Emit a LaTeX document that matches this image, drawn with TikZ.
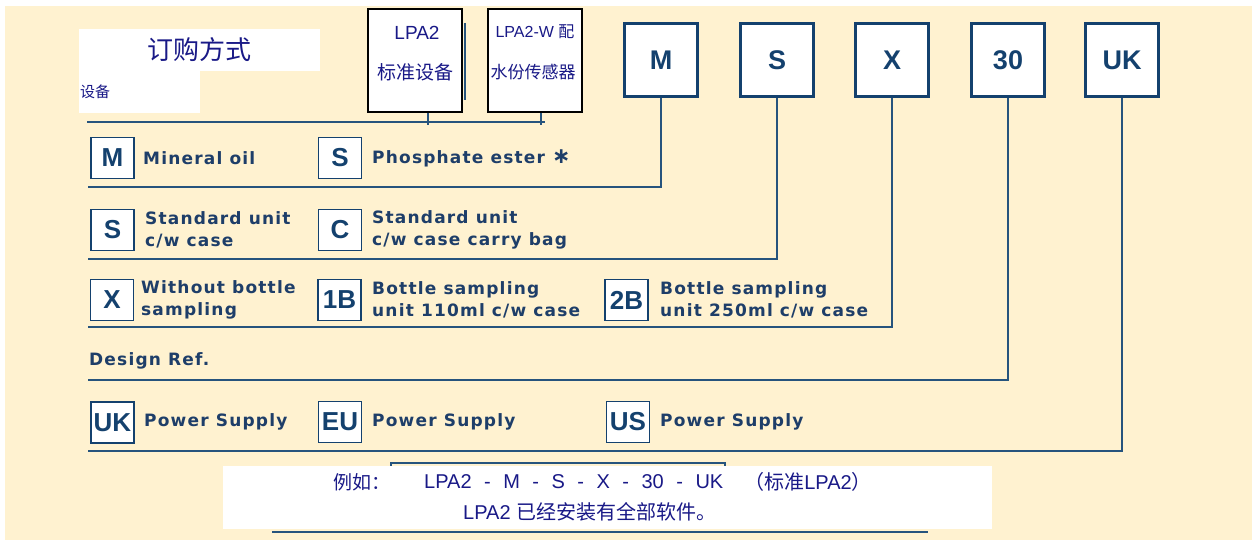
\documentclass[tikz,border=0pt]{standalone}
\usepackage{fontspec}
\usepackage{tikz}
\setmainfont{Liberation Sans}
\newfontfamily\cjk{Noto Sans CJK SC}
\newfontfamily\labfont[LetterSpace=7]{DejaVu Sans}

\definecolor{cream}{RGB}{255,242,208}
\definecolor{rulec}{RGB}{38,84,125}
\definecolor{boxnavy}{RGB}{20,65,110}
\definecolor{labtxt}{RGB}{30,62,105}
\definecolor{cjktxt}{RGB}{25,25,135}

\newcommand{\gap}{\hspace{12.5pt}}

\tikzset{
  bigbox/.style={draw=boxnavy, line width=3pt, fill=white, minimum size=73pt, inner sep=0pt,
    text=boxnavy, font=\bfseries\fontsize{27}{27}\selectfont},
  keybox/.style={draw=boxnavy, line width=1.8pt, fill=white, minimum width=43pt, minimum height=41pt,
    inner sep=0pt, text=boxnavy, font=\bfseries\fontsize{26}{26}\selectfont},
  desc/.style={anchor=west, align=left, inner sep=0pt, text=labtxt,
    font=\labfont\bfseries\fontsize{17}{22}\selectfont},
  modelbox/.style={draw=black, line width=2pt, fill=white, minimum width=94pt, minimum height=103pt},
  mtxt/.style={text=cjktxt, inner sep=0pt},
  rule/.style={draw=rulec, line width=2pt},
}

\begin{document}
\begin{tikzpicture}[x=1pt,y=-1pt]
  \useasboundingbox (0,0) rectangle (1252,540);
  % Background
  \fill[cream] (5,6) rectangle (1252,540);

  % Title area
  \fill[white] (79,29) rectangle (320,71);
  \fill[white] (79,71) rectangle (200,113);
  \node[mtxt, font=\cjk\fontsize{26}{26}\selectfont] (title) at (199,50) {订购方式};
  \node[mtxt, anchor=west, font=\cjk\fontsize{15}{15}\selectfont] (device) at (80,92) {设备};

  % Model boxes
  \draw[rule] (465,23) -- (465,100);
  \node[modelbox] (lpa) at (415,60.5) {};
  \node[modelbox] (lpaw) at (535,60.5) {};
  \node[mtxt, font=\fontsize{19}{19}\selectfont] (lpaA) at (417,33) {LPA2};
  \node[mtxt, font=\cjk\fontsize{19}{19}\selectfont] (lpaB) at (415,72) {标准设备};
  \node[mtxt, font=\fontsize{16}{16}\selectfont] (lpawA) at (535,32) {LPA2-W {\cjk 配}};
  \node[mtxt, font=\cjk\fontsize{17}{17}\selectfont] (lpawB) at (533,72) {水份传感器};

  % Line under the model boxes
  \coordinate (top0) at (87,122);
  \coordinate (top1) at (545,122);
  \draw[rule] (top0) -- (top1);
  \draw[rule, line width=1.5pt] ([xshift=13pt]lpa.south) -- ++(0,12);
  \draw[rule, line width=1.5pt] ([xshift=6pt]lpaw.south) -- ++(0,12);

  % Code boxes
  \foreach \name/\txt/\xx in {bM/M/661, bS/S/777, bX/X/892, b30/30/1008, bUK/UK/1122}
    \node[bigbox] (\name) at (\xx,60) {\txt};

  % Oil
  \node[keybox] (kM) at (112.5,158) {M};
  \node[desc] (dM) at (143,158) {Mineral oil};
  \node[keybox] (kS) at (340,158) {S};
  \node[desc] (dS) at (372,158) {Phosphate ester {\fontsize{22}{22}\selectfont ∗}};
  \coordinate (r1) at (88,187);
  \draw[rule] (r1) -| (bM.south);

  % Unit
  \node[keybox] (kSu) at (112.5,230) {S};
  \node[desc] (dSu) at (145,230) {Standard unit\\c/w case};
  \node[keybox] (kC) at (340,230) {C};
  \node[desc] (dC) at (372,230) {Standard unit\\c/w case carry bag};
  \coordinate (r2) at (88,259);
  \draw[rule] (r2) -| (bS.south);

  % Sampling
  \node[keybox] (kX) at (112,300) {X};
  \node[desc] (dX) at (141,300) {Without bottle\\sampling};
  \node[keybox] (k1B) at (339.5,300) {1B};
  \node[desc] (d1B) at (372,300) {Bottle sampling\\unit 110ml c/w case};
  \node[keybox] (k2B) at (626.5,300) {2B};
  \node[desc] (d2B) at (660,300) {Bottle sampling\\unit 250ml c/w case};
  \coordinate (r3) at (88,327);
  \draw[rule] (r3) -| (bX.south);

  % Design ref
  \node[desc] (dRef) at (89,361) {Design Ref.};
  \coordinate (r4) at (88,380);
  \draw[rule] (r4) -| (b30.south);

  % Power supply
  \node[keybox] (kUK) at (112.5,422.5) {UK};
  \node[desc] (dUK) at (144,422) {Power Supply};
  \node[keybox] (kEU) at (340,422) {EU};
  \node[desc] (dEU) at (372,422) {Power Supply};
  \node[keybox] (kUS) at (628,422) {US};
  \node[desc] (dUS) at (660,422) {Power Supply};
  \coordinate (r5) at (88,451);
  \draw[rule] (r5) -| (bUK.south);

  % Example
  \draw[rule] (391,463) rectangle (725,515);
  \fill[white] (223,466) rectangle (992,529);
  \draw[rule, line width=2.5pt] (272,532) -- (928,532);
  \node[mtxt, anchor=west, font=\cjk\fontsize{19}{19}\selectfont] (eg) at (333,482) {例如：};
  \node[mtxt, anchor=west, font=\fontsize{20}{20}\selectfont] (code) at (424,482)
    {LPA2\gap-\gap M\gap-\gap S\gap-\gap X\gap-\gap 30\gap-\gap UK};
  \node[mtxt, anchor=east, font=\fontsize{20}{20}\selectfont] (std) at (872,482) {{\cjk （标准}LPA2{\cjk ）}};
  \node[mtxt, anchor=west, font=\fontsize{20}{20}\selectfont] (note) at (463,512) {LPA2 {\cjk 已经安装有全部软件。}};

\end{tikzpicture}
\end{document}
